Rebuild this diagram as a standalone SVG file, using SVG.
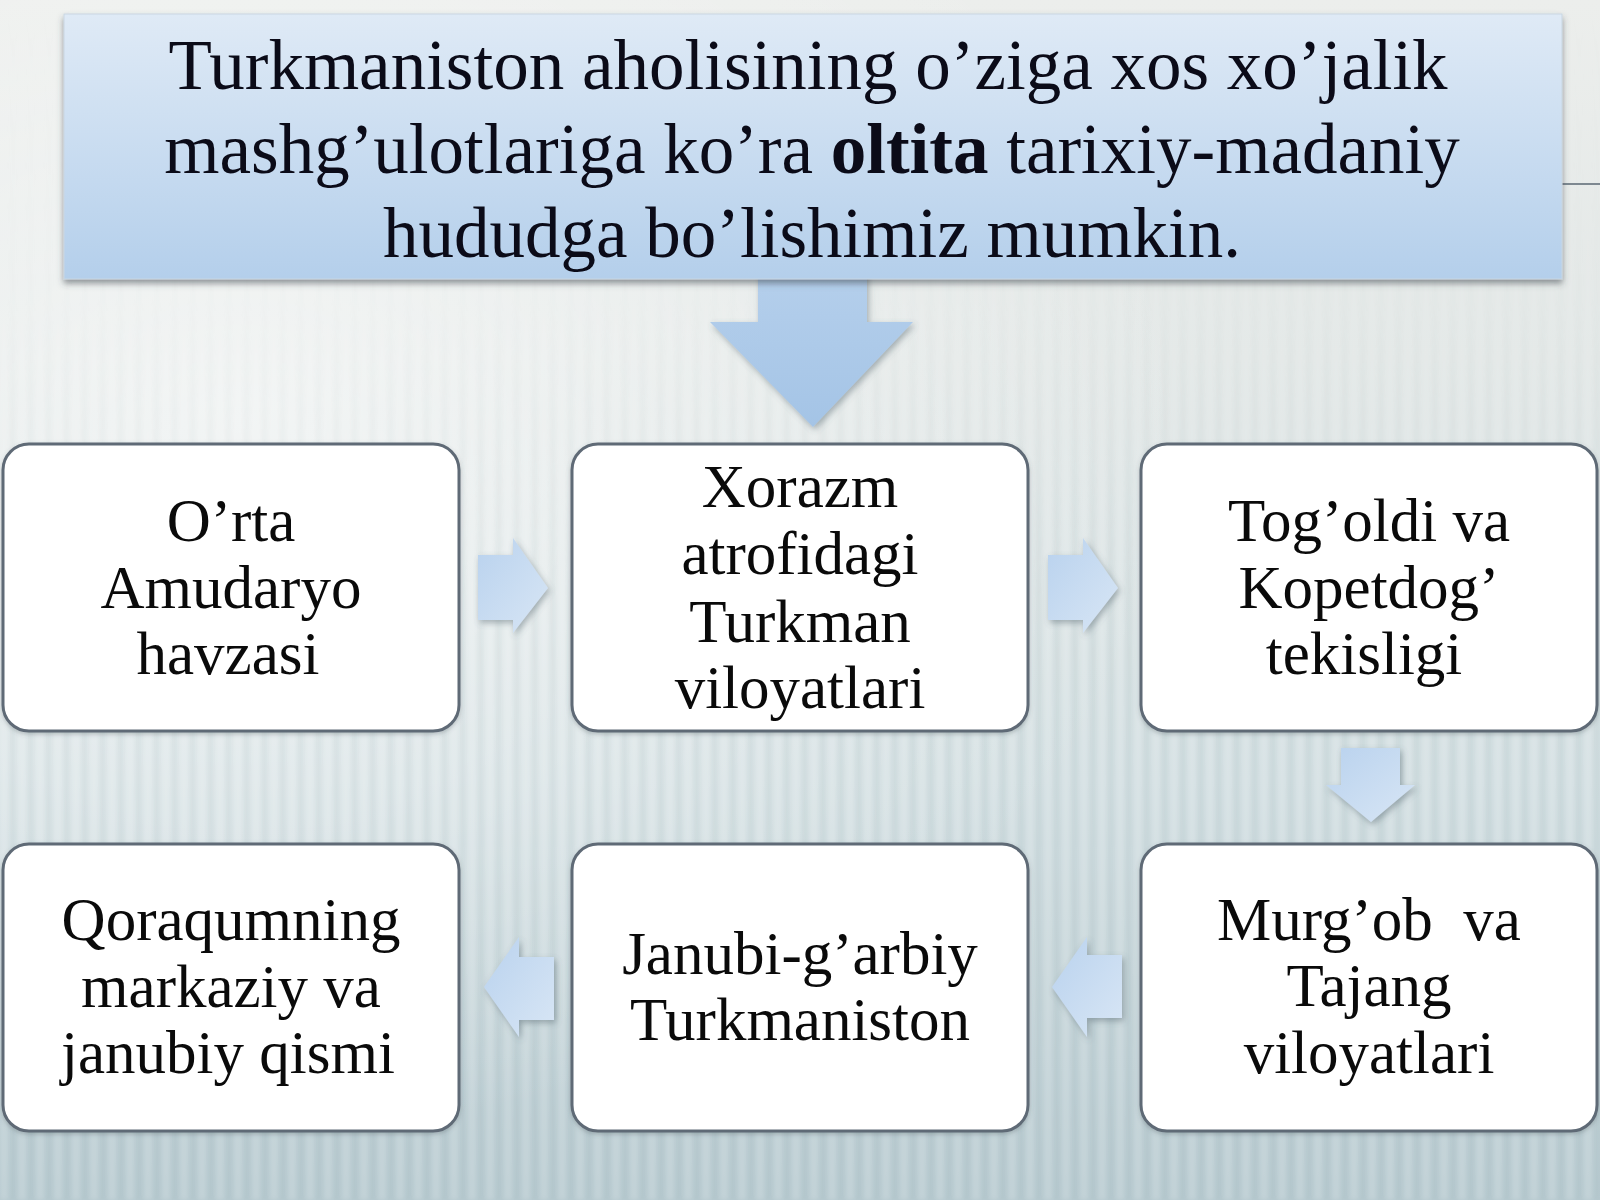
<svg xmlns="http://www.w3.org/2000/svg" width="1600" height="1200" viewBox="0 0 1600 1200">
  <defs>
    <style>
      .node { fill: #ffffff; stroke: #5f6a76; stroke-width: 3; }
      .lbl { font-family: "Liberation Serif", "Times New Roman", serif; font-size: 61px; fill: #0a0a0a; text-anchor: middle; }
      .title { font-family: "Liberation Serif", "Times New Roman", serif; font-size: 71px; fill: #0b0b18; text-anchor: middle; }
      .small-arrow { fill: url(#arrowGrad); filter: url(#arrowShadow); }
    </style>
    <linearGradient id="bgGrad" x1="0" y1="0" x2="0" y2="1">
      <stop offset="0" stop-color="#eceeec"/>
      <stop offset="0.3" stop-color="#e3e8e7"/>
      <stop offset="0.65" stop-color="#d0dde0"/>
      <stop offset="1" stop-color="#b6c9cf"/>
    </linearGradient>
    <radialGradient id="bgLight" cx="0.15" cy="0.35" r="0.6">
      <stop offset="0" stop-color="#ffffff" stop-opacity="0.55"/>
      <stop offset="1" stop-color="#ffffff" stop-opacity="0"/>
    </radialGradient>
    <linearGradient id="stripeFade" x1="0" y1="0" x2="0" y2="1">
      <stop offset="0" stop-color="#fff" stop-opacity="0"/>
      <stop offset="0.25" stop-color="#fff" stop-opacity="0.2"/>
      <stop offset="0.5" stop-color="#fff" stop-opacity="0.9"/>
      <stop offset="1" stop-color="#fff" stop-opacity="0.7"/>
    </linearGradient>
    <mask id="stripeMask">
      <rect x="0" y="0" width="1600" height="1200" fill="url(#stripeFade)"/>
    </mask>
    <filter id="blurStripes" x="0" y="0" width="100%" height="100%">
      <feGaussianBlur stdDeviation="2"/>
    </filter>
    <pattern id="stripes" x="0" y="0" width="18" height="1200" patternUnits="userSpaceOnUse">
      <rect x="0" y="0" width="8" height="1200" fill="#ffffff" opacity="0.25"/>
      <rect x="10" y="0" width="5" height="1200" fill="#8fa6ae" opacity="0.1"/>
    </pattern>
    <linearGradient id="titleGrad" x1="0" y1="0" x2="0" y2="1">
      <stop offset="0" stop-color="#dfeaf6"/>
      <stop offset="1" stop-color="#b4cfeb"/>
    </linearGradient>
    <linearGradient id="bigArrowGrad" x1="0" y1="0" x2="0" y2="1">
      <stop offset="0" stop-color="#b6d0ec"/>
      <stop offset="1" stop-color="#a4c4e6"/>
    </linearGradient>
    <linearGradient id="arrowGrad" x1="0" y1="0" x2="1" y2="1">
      <stop offset="0" stop-color="#b9d2ee"/>
      <stop offset="1" stop-color="#d8e6f5"/>
    </linearGradient>
    <filter id="boxShadow" x="-5%" y="-10%" width="110%" height="125%">
      <feDropShadow dx="0" dy="4" stdDeviation="3" flood-color="#3c4650" flood-opacity="0.55"/>
    </filter>
    <filter id="arrowShadow" x="-30%" y="-30%" width="160%" height="160%">
      <feDropShadow dx="2" dy="3" stdDeviation="3" flood-color="#50606a" flood-opacity="0.45"/>
    </filter>
    <filter id="nodeShadow" x="-5%" y="-5%" width="110%" height="115%">
      <feDropShadow dx="0" dy="2" stdDeviation="2" flood-color="#46525c" flood-opacity="0.3"/>
    </filter>
  </defs>

  <!-- background -->
  <g id="background">
    <rect x="0" y="0" width="1600" height="1200" fill="url(#bgGrad)"/>
    <rect x="0" y="0" width="1600" height="1200" fill="url(#bgLight)"/>
    <g mask="url(#stripeMask)">
      <rect x="0" y="0" width="1600" height="1200" fill="url(#stripes)" filter="url(#blurStripes)"/>
    </g>
    <line x1="1562" y1="184" x2="1600" y2="184" stroke="#7d8890" stroke-width="2"/>
  </g>

  <!-- connectors -->
  <g id="connectors">
    <polygon id="arrow-title" points="758,262 867,262 867,322 913,322 813,427 710,322 758,322" fill="url(#bigArrowGrad)" filter="url(#arrowShadow)"/>
    <polygon id="arrow-1-2" class="small-arrow" points="478,555 513,555 513,538 548,588 513,633 513,620 478,620"/>
    <polygon id="arrow-2-3" class="small-arrow" points="1048,555 1083,555 1083,538 1118,588 1083,633 1083,620 1048,620"/>
    <polygon id="arrow-3-4" class="small-arrow" points="1341,748 1400,748 1400,785 1415,785 1371,822 1326,785 1341,785"/>
    <polygon id="arrow-4-5" class="small-arrow" points="1122,955 1122,1018 1087,1018 1087,1037 1052,987 1087,937 1087,955"/>
    <polygon id="arrow-5-6" class="small-arrow" points="554,957 554,1020 519,1020 519,1037 484,987 519,937 519,957"/>
  </g>

  <!-- title -->
  <g id="title">
    <rect x="64" y="14" width="1498" height="265" fill="url(#titleGrad)" stroke="#c9d6e2" stroke-width="1" filter="url(#boxShadow)"/>
    <text class="title" x="808" y="89">Turkmaniston aholisining o’ziga xos xo’jalik</text>
    <text class="title" x="812" y="173">mashg’ulotlariga ko’ra <tspan font-weight="bold">oltita</tspan> tarixiy-madaniy</text>
    <text class="title" x="812" y="257">hududga bo’lishimiz mumkin.</text>
  </g>

  <!-- nodes -->
  <g id="node-1">
    <rect class="node" x="3" y="444" width="456" height="287" rx="26" filter="url(#nodeShadow)"/>
    <text class="lbl" x="231" y="541">O’rta</text>
    <text class="lbl" x="231" y="608">Amudaryo</text>
    <text class="lbl" x="228" y="674">havzasi</text>
  </g>
  <g id="node-2">
    <rect class="node" x="572" y="444" width="456" height="287" rx="26" filter="url(#nodeShadow)"/>
    <text class="lbl" x="800" y="507">Xorazm</text>
    <text class="lbl" x="800" y="574">atrofidagi</text>
    <text class="lbl" x="800" y="642">Turkman</text>
    <text class="lbl" x="800" y="708">viloyatlari</text>
  </g>
  <g id="node-3">
    <rect class="node" x="1141" y="444" width="456" height="287" rx="26" filter="url(#nodeShadow)"/>
    <text class="lbl" x="1369" y="541">Tog’oldi va</text>
    <text class="lbl" x="1369" y="608">Kopetdog’</text>
    <text class="lbl" x="1364" y="674">tekisligi</text>
  </g>
  <g id="node-4">
    <rect class="node" x="1141" y="844" width="456" height="287" rx="26" filter="url(#nodeShadow)"/>
    <text class="lbl" x="1369" y="940" xml:space="preserve">Murg’ob  va</text>
    <text class="lbl" x="1369" y="1006">Tajang</text>
    <text class="lbl" x="1369" y="1073">viloyatlari</text>
  </g>
  <g id="node-5">
    <rect class="node" x="572" y="844" width="456" height="287" rx="26" filter="url(#nodeShadow)"/>
    <text class="lbl" x="800" y="974">Janubi-g’arbiy</text>
    <text class="lbl" x="800" y="1040">Turkmaniston</text>
  </g>
  <g id="node-6">
    <rect class="node" x="3" y="844" width="456" height="287" rx="26" filter="url(#nodeShadow)"/>
    <text class="lbl" x="231" y="940">Qoraqumning</text>
    <text class="lbl" x="231" y="1007">markaziy va</text>
    <text class="lbl" x="228" y="1073">janubiy qismi</text>
  </g>
</svg>
